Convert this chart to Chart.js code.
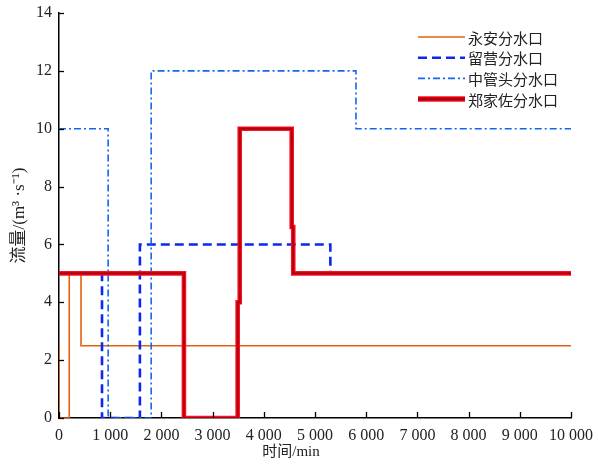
<!DOCTYPE html>
<html>
<head>
<meta charset="utf-8">
<script src="https://cdn.jsdelivr.net/npm/chart.js@4/dist/chart.umd.min.js"></script>
<style>
  html, body { margin: 0; padding: 0; background: #fff; }
  #wrap { width: 598px; height: 466px; position: relative; }
</style>
</head>
<body>
<div id="wrap"><canvas id="c" width="598" height="466"></canvas></div>
<script>
// Step hydrographs of the four outlets: time (min) and flow (m³/s)
const yonganTime   = [0, 0, 200, 200, 430, 430, 10000];
const yonganFlow   = [2.5, 0, 0, 5, 5, 2.5, 2.5];

const liuyingTime  = [0, 840, 840, 1580, 1580, 5300, 5300, 10000];
const liuyingFlow  = [5, 5, 0, 0, 6, 6, 5, 5];

const zhongguanTime = [0, 960, 960, 1800, 1800, 5800, 5800, 10000];
const zhongguanFlow = [10, 10, 0, 0, 12, 12, 10, 10];

const zhengjiaTime = [0, 2440, 2440, 3490, 3490, 3530, 3530, 4545, 4545, 4575, 4575, 10000];
const zhengjiaFlow = [5, 5, 0, 0, 4, 4, 10, 10, 6.6, 6.6, 5, 5];

const seriesNames = ['永安分水口', '留营分水口', '中管头分水口', '郑家佐分水口'];
const xTicks = [0, 1000, 2000, 3000, 4000, 5000, 6000, 7000, 8000, 9000, 10000];
const yTicks = [0, 2, 4, 6, 8, 10, 12, 14];
const xTitle = '时间/min';
const yTitle = '流量/(m³ ·s⁻¹)';

const toPoints = (t, v) => t.map((x, i) => ({ x, y: v[i] }));

const serif = "'Times New Roman', 'Liberation Serif', 'Noto Sans CJK SC', serif";

// Legend drawn inside the plot area, top right
const legendItems = [
  { label: seriesNames[0], color: '#E2620E', width: 1.6, dash: [] },
  { label: seriesNames[1], color: '#0A28F0', width: 2.6, dash: [9, 5] },
  { label: seriesNames[2], color: '#1565F0', width: 1.6, dash: [7, 3, 2, 3] },
  { label: seriesNames[3], color: '#B00010', width: 4.5, dash: [], edge: '#FF1020' }
];

const insideLegend = {
  id: 'insideLegend',
  afterDraw(chart) {
    const ctx = chart.ctx;
    const x0 = 418, x1 = 465, y0 = 37, dy = 20.7;
    ctx.save();
    legendItems.forEach((it, i) => {
      const y = y0 + i * dy;
      if (it.edge) {
        ctx.strokeStyle = it.edge; ctx.lineWidth = it.width + 1; ctx.setLineDash([]);
        ctx.beginPath(); ctx.moveTo(x0, y); ctx.lineTo(x1, y); ctx.stroke();
        ctx.lineWidth = it.width - 1.5;
      } else {
        ctx.lineWidth = it.width;
      }
      ctx.strokeStyle = it.color;
      ctx.setLineDash(it.dash);
      ctx.beginPath(); ctx.moveTo(x0, y); ctx.lineTo(x1, y); ctx.stroke();
      ctx.setLineDash([]);
      ctx.fillStyle = '#222';
      ctx.font = "15px 'Noto Sans CJK SC', serif";
      ctx.textBaseline = 'middle';
      ctx.textAlign = 'left';
      ctx.fillText(it.label, 468, y + 1);
    });
    ctx.restore();
  }
};

// Short inward tick marks on both axes, plus the time-axis title
const inwardTicks = {
  id: 'inwardTicks',
  afterDraw(chart) {
    const { ctx, scales: { x, y } } = chart;
    ctx.save();
    ctx.strokeStyle = '#000';
    ctx.lineWidth = 1.3;
    xTicks.forEach(v => {
      const px = Math.round(x.getPixelForValue(v)) + 0.5;
      ctx.beginPath(); ctx.moveTo(px, y.bottom); ctx.lineTo(px, y.bottom - 6); ctx.stroke();
    });
    yTicks.forEach(v => {
      const py = Math.round(y.getPixelForValue(v)) + 0.5;
      ctx.beginPath(); ctx.moveTo(x.left, py); ctx.lineTo(x.left + 5, py); ctx.stroke();
    });
    ctx.fillStyle = '#222';
    ctx.font = '15px ' + serif;
    ctx.textAlign = 'center';
    ctx.textBaseline = 'middle';
    ctx.fillText(xTitle, (x.left + x.right) / 2 - 24, y.bottom + 34);
    ctx.restore();
  }
};

const fmtThousands = v => {
  const s = String(v);
  return s.length > 3 ? s.slice(0, s.length - 3) + ' ' + s.slice(-3) : s;
};

new Chart(document.getElementById('c'), {
  type: 'line',
  data: {
    datasets: [
      { label: seriesNames[3], data: toPoints(zhengjiaTime, zhengjiaFlow),
        borderColor: '#B00010', borderWidth: 2.2, order: 0 },
      { label: seriesNames[3], data: toPoints(zhengjiaTime, zhengjiaFlow),
        borderColor: '#FF1020', borderWidth: 4.6, order: 1 },
      { label: seriesNames[0], data: toPoints(yonganTime, yonganFlow),
        borderColor: '#E2620E', borderWidth: 1.6, order: 4 },
      { label: seriesNames[1], data: toPoints(liuyingTime, liuyingFlow),
        borderColor: '#0A28F0', borderWidth: 2.6, borderDash: [9, 5], order: 3 },
      { label: seriesNames[2], data: toPoints(zhongguanTime, zhongguanFlow),
        borderColor: '#1565F0', borderWidth: 1.6, borderDash: [7, 3, 2, 3], order: 2 }
    ]
  },
  options: {
    responsive: false,
    animation: false,
    devicePixelRatio: 1,
    elements: { point: { radius: 0 }, line: { tension: 0, fill: false, borderCapStyle: 'butt', borderJoinStyle: 'miter' } },
    layout: { padding: { top: 13, right: 27, left: 0, bottom: 0 } },
    plugins: { legend: { display: false }, tooltip: { enabled: false } },
    scales: {
      x: {
        type: 'linear', min: 0, max: 10000,
        afterBuildTicks: s => { s.ticks = xTicks.map(v => ({ value: v })); },
        afterFit: s => { s.height = 48; s.paddingLeft = 0; s.paddingRight = 0; },
        ticks: { color: '#222', font: { family: serif, size: 16 }, padding: 8, maxRotation: 0,
                 callback: v => fmtThousands(v) },
        grid: { drawOnChartArea: false, drawTicks: false },
        border: { color: '#000', width: 1.5 },
        title: { display: false }
      },
      y: {
        min: 0, max: 14,
        afterBuildTicks: s => { s.ticks = yTicks.map(v => ({ value: v })); },
        afterFit: s => { s.width = 59; s.paddingTop = 0; s.paddingBottom = 0; },
        ticks: { color: '#222', font: { family: serif, size: 16 }, padding: 7 },
        grid: { drawOnChartArea: false, drawTicks: false },
        border: { color: '#000', width: 1.5 },
        title: { display: true, text: yTitle, color: '#222',
                 font: { family: serif, size: 17 }, padding: { top: 9, bottom: 0 } }
      }
    }
  },
  plugins: [inwardTicks, insideLegend]
});
</script>
</body>
</html>
